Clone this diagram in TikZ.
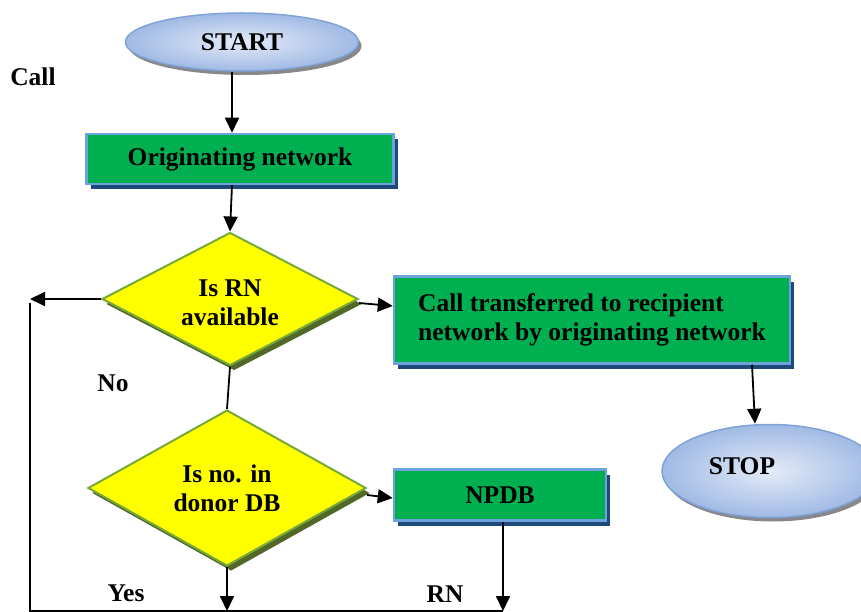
\documentclass[tikz,border=0pt]{standalone}
\usepackage{fontspec}
\setmainfont{Liberation Serif}
\usetikzlibrary{shapes.geometric,arrows.meta,shadows}

\definecolor{boxgreen}{RGB}{0,176,80}
\definecolor{boxedge}{RGB}{110,162,220}
\definecolor{boxshadow}{RGB}{31,73,125}
\definecolor{diafill}{RGB}{255,255,0}
\definecolor{diaedge}{RGB}{119,168,58}
\definecolor{diashadow}{RGB}{82,104,40}
\definecolor{ovalin}{RGB}{228,235,248}
\definecolor{ovalout}{RGB}{160,186,228}
\definecolor{ovaledge}{RGB}{128,163,215}
\definecolor{ovalshadow}{RGB}{135,135,140}

% lower a line of text without changing its box
\newcommand{\lowered}[1]{\raisebox{-4pt}[\height][\depth]{#1}}

\begin{document}
\begin{tikzpicture}[x=1pt,y=-1pt,
  font=\fontsize{25.5}{29}\selectfont\bfseries,
  terminal/.style={ellipse, draw=ovaledge, line width=1.5pt,
    inner color=ovalin, outer color=ovalout, inner sep=0pt,
    drop shadow={shadow xshift=3pt, shadow yshift=-4pt, fill=ovalshadow, opacity=1}},
  procbox/.style={rectangle, draw=boxedge, line width=2.5pt, fill=boxgreen,
    inner sep=0pt,
    drop shadow={shadow xshift=4pt, shadow yshift=-5pt, fill=boxshadow, opacity=1}},
  decision/.style={diamond, draw=diaedge, line width=2pt, fill=diafill,
    shape aspect=2, inner sep=0pt, align=center,
    drop shadow={shadow xshift=4pt, shadow yshift=-5pt, fill=diashadow, opacity=1}},
  arr/.style={line width=1.8pt, -{Triangle[length=15pt,width=14pt]}},
  conn/.style={line width=1.8pt},
  tag/.style={inner sep=0pt}
]
\useasboundingbox (0,0) rectangle (861,612);
\clip (0,0) rectangle (861,612);

% flowchart boxes
\node[terminal, minimum width=233pt, minimum height=58pt] (start) at (242,42) {START};
\node[procbox, minimum width=307pt, minimum height=50pt] (orig) at (240,159) {Originating network};
\node[decision, minimum width=256pt, minimum height=133pt] (d1) at (230,299)
  {\lowered{Is RN}\\\lowered{available}};
\node[procbox, minimum width=396pt, minimum height=87pt, align=left] (call) at (592,320)
  {Call transferred to recipient\\network by originating network};
\node[terminal, minimum width=216pt, minimum height=93pt] (stop) at (770,471) {};
\node[tag] (stoptext) at ([xshift=-28pt,yshift=5pt]stop.center) {STOP};
\node[decision, minimum width=278pt, minimum height=156pt] (d2) at (227,488) {Is no. in\\donor DB};
\node[procbox, minimum width=212pt, minimum height=51pt] (npdb) at (500,495) {NPDB};

% free labels
\node[tag] (calllbl) at (33,77) {Call};
\node[tag] (nolbl) at (113,383) {No};
\node[tag] (yeslbl) at (126,593) {Yes};
\node[tag] (rnlbl) at (445,594) {RN};

% loop corners
\coordinate (loopTL) at (30,300);
\coordinate (loopBL) at (30,611);
\coordinate (loopBR) at (503,611);

% connectors
\draw[arr] ([xshift=-10pt]start.south) -- ([xshift=-8pt]orig.north);
\draw[arr] ([xshift=-8pt]orig.south) -- (d1.north);
\draw[conn] (d1.south) -- (d2.north);
\draw[arr] ([yshift=-4pt]d1.east) -- ([yshift=14pt]call.west);
\draw[arr] ([xshift=160pt]call.south) -- ([xshift=-15pt]stop.north);
\draw[arr] ([yshift=-7pt]d2.east) -- ([yshift=-3pt]npdb.west);
\draw[arr] (d1.west) -- (d1.west -| loopTL);
\draw[conn] ([yshift=-3pt]loopTL) -- (loopBL) -- (loopBR);
\draw[arr] (d2.south) -- (d2.south |- loopBL);
\draw[arr] (npdb.south -| loopBR) -- (loopBR);
\end{tikzpicture}
\end{document}
